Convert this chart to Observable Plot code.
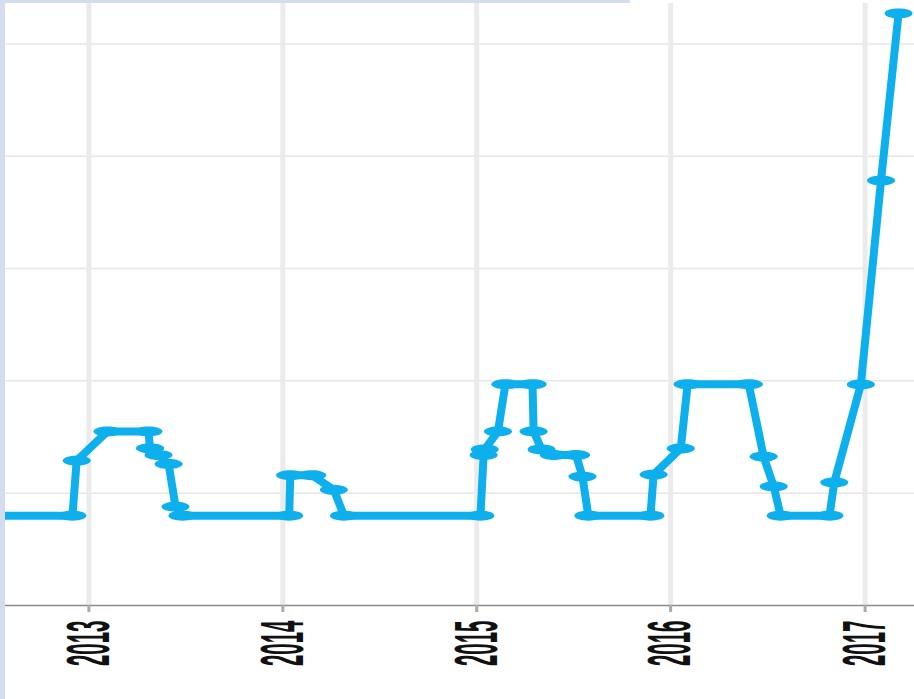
<!DOCTYPE html>
<html><head><meta charset="utf-8">
<script src="https://cdn.jsdelivr.net/npm/d3@7"></script>
<script src="https://cdn.jsdelivr.net/npm/@observablehq/plot@0.6"></script>
<style>
html,body{margin:0;padding:0;background:#fff;}
#wrap{position:relative;width:914px;height:699px;overflow:hidden;background:#fff;}
#chart{position:absolute;left:0;top:0;}
#left{position:absolute;left:0;top:0;width:5px;height:699px;background:#d4dcf0;}
#top{position:absolute;left:0;top:0;width:630px;height:3px;background:#d4dcf0;}
</style></head><body>
<div id="wrap"><div id="chart"></div><div id="left"></div><div id="top"></div></div>
<script>
// Data
const dates = [
  "2012-07-01","2012-12-01","2012-12-09","2013-02-05","2013-04-23","2013-04-26",
  "2013-05-12","2013-05-31","2013-06-13","2013-06-26",
  "2014-01-13","2014-01-15","2014-02-25","2014-04-07","2014-04-26",
  "2015-01-08","2015-01-14","2015-01-16","2015-02-10","2015-02-24","2015-04-16",
  "2015-04-18","2015-05-03","2015-05-26","2015-07-07","2015-07-19","2015-07-30",
  "2015-11-24","2015-11-30","2016-01-20","2016-02-02","2016-05-27","2016-06-24",
  "2016-07-13","2016-07-26","2016-10-26","2016-11-04","2016-12-24","2017-01-31","2017-03-05"
];
const values = [
  4.0, 4.0, 6.45, 7.75, 7.75, 7.0,
  6.7, 6.3, 4.4, 4.0,
  4.0, 5.8, 5.8, 5.15, 4.0,
  4.0, 6.7, 6.95, 7.75, 9.85, 9.85,
  7.75, 6.95, 6.7, 6.7, 5.74, 4.0,
  4.0, 5.83, 6.99, 9.85, 9.85, 6.63,
  5.3, 4.0, 4.0, 5.48, 9.84, 18.92, 26.36
];
const yearTicks = ["2013-01-01","2014-01-01","2015-01-01","2016-01-01","2017-01-01"];
const yearLabels = ["2013","2014","2015","2016","2017"];
const gridValues = [5, 10, 15, 20, 25];
const xDomain = ["2012-07-28", "2017-04-04"];
const yDomain = [0, 26.8];

const data = dates.map((d, i) => ({date: new Date(d), value: values[i]}));
const yearDates = yearTicks.map(d => new Date(d));
const labelFor = new Map(yearDates.map((d, i) => [+d, yearLabels[i]]));

const ellipse = {
  draw(ctx) {
    const rx = 14, ry = 5, n = 32;
    for (let i = 0; i < n; i++) {
      const a = 2 * Math.PI * i / n;
      const px = rx * Math.cos(a), py = ry * Math.sin(a);
      if (i) ctx.lineTo(px, py); else ctx.moveTo(px, py);
    }
    ctx.closePath();
  }
};

const blue = "#0db0ec";
const chart = Plot.plot({
  width: 914, height: 699,
  marginLeft: 5, marginRight: 0, marginTop: 3, marginBottom: 94,
  style: {background: "#fff"},
  x: {type: "time", domain: xDomain.map(d => new Date(d)), axis: null},
  y: {domain: yDomain, axis: null},
  marks: [
    Plot.gridY(gridValues, {stroke: "#e6e6e6", strokeOpacity: 1, strokeWidth: 1.5}),
    Plot.ruleX(yearDates, {stroke: "#ebebeb", strokeWidth: 5}),
    Plot.ruleY([0], {stroke: "#8a8a8a", strokeWidth: 1.5}),
    Plot.axisX(yearDates, {
      tickSize: 7, stroke: "#aaaaaa", strokeWidth: 3, tickPadding: 8, tickRotate: -90,
      tickFormat: d => labelFor.get(+d), fontSize: 62, fontFamily: "Liberation Sans",
      fontWeight: "bold", fill: "#111", label: null
    }),
    Plot.line(data, {x: "date", y: "value", stroke: blue, strokeWidth: 8, clip: true}),
    Plot.dot(data, {x: "date", y: "value", symbol: ellipse, fill: blue, stroke: "none", r: 4, clip: true})
  ]
});
document.getElementById("chart").appendChild(chart);
chart.querySelectorAll('g[aria-label="x-axis tick label"] text').forEach(t => {
  const tr = t.getAttribute("transform") || "";
  t.setAttribute("transform", tr + " scale(0.33,1)");
});
</script>
</body></html>
